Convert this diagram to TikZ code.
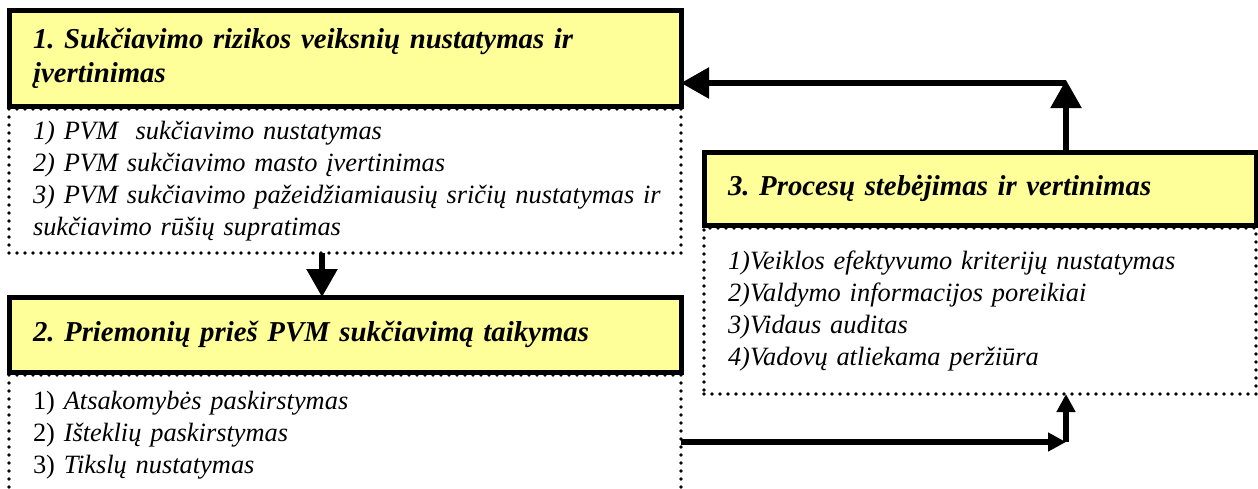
\documentclass[tikz,border=0pt]{standalone}
\usepackage{fontspec}
\setmainfont{Liberation Serif}
\usepackage{tikz}
\usetikzlibrary{arrows.meta, positioning}
\definecolor{stageyellow}{RGB}{255, 255, 153}
\frenchspacing

\begin{document}
\begin{tikzpicture}[
    x=0.5pt, y=-0.5pt,
    stage/.style={rectangle, draw=black, fill=stageyellow, line width=2.5pt,
                  anchor=north west, outer sep=0pt, inner xsep=12pt,
                  text width=#1, align=left,
                  font=\fontsize{14.4}{17}\selectfont\bfseries\itshape},
    tasks/.style={rectangle, draw=black, line width=1.9pt, line cap=round,
                  dash pattern=on 0pt off 4pt, outer sep=0pt, inner xsep=12pt,
                  text width=#1, align=left,
                  font=\fontsize{13.2}{16}\selectfont\itshape},
    bigarrow/.style={-{Triangle[length=14pt, width=15pt]}, line width=2.75pt},
    smallarrow/.style={-{Triangle[length=9pt, width=9pt]}, line width=2.75pt}
]
    \useasboundingbox (0,0) rectangle (1258,488);
    \clip (0,0) rectangle (1258,488);

    % Stage 1
    \node[stage=312pt, minimum height=48pt] (riskhdr) at (9,10)
        {1. Sukčiavimo rizikos veiksnių nustatymas ir\\ įvertinimas};
    \node[tasks=312pt, minimum height=72pt, below=1.5pt of riskhdr] (risklist)
        {1) PVM\ \ sukčiavimo nustatymas\\
         2) PVM sukčiavimo masto įvertinimas\\
         \mbox{3) PVM sukčiavimo pažeidžiamiausių sričių nustatymas ir}\\
         sukčiavimo rūšių supratimas};

    % Stage 2
    \node[stage=312pt, minimum height=37.5pt] (toolhdr) at (9,297)
        {2. Priemonių prieš PVM sukčiavimą taikymas};
    \node[tasks=312pt, minimum height=60pt, below=1.5pt of toolhdr] (toollist)
        {\textup{1)} Atsakomybės paskirstymas\\
         \textup{2)} Išteklių paskirstymas\\
         \textup{3)} Tikslų nustatymas};

    % Stage 3
    \node[stage=252pt, minimum height=36.5pt] (monhdr) at (704,152)
        {3. Procesų stebėjimas ir vertinimas};
    \node[tasks=252pt, minimum height=83pt, below=1.5pt of monhdr] (monlist)
        {1)Veiklos efektyvumo kriterijų nustatymas\\
         2)Valdymo informacijos poreikiai\\
         3)Vidaus auditas\\
         4)Vadovų atliekama peržiūra};

    % Connectors
    \coordinate (topturn) at (1066,83);
    \coordinate (botturn) at (1066,442);
    \draw[bigarrow] ([xshift=-11.5pt]risklist.south) -- ([xshift=-11.5pt]toolhdr.north);
    \draw[bigarrow] (monhdr.north -| topturn) -- ([yshift=1.5pt]topturn);
    \draw[bigarrow] (topturn) -- (topturn -| riskhdr.east);
    \draw[smallarrow] (toollist.east |- botturn) -- (botturn);
    \draw[smallarrow] (botturn) -- (monlist.south -| botturn);
\end{tikzpicture}
\end{document}
